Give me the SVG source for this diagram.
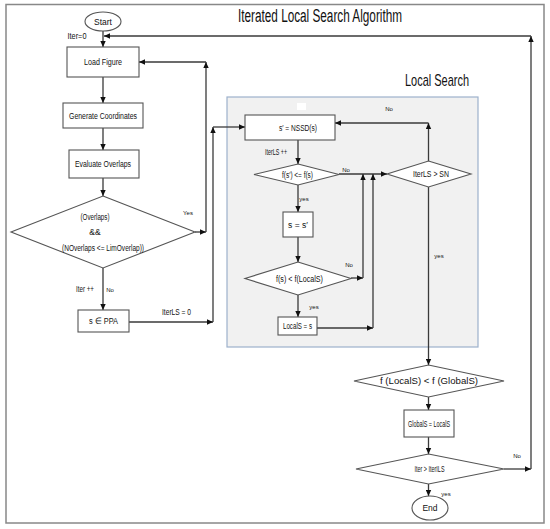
<svg xmlns="http://www.w3.org/2000/svg" width="550" height="529" viewBox="0 0 550 529">
<defs>
<marker id="ah" viewBox="0 0 10 10" refX="10" refY="5" markerWidth="6" markerHeight="6" orient="auto" markerUnits="userSpaceOnUse"><path d="M0,0.5 L10,5 L0,9.5 z" fill="#111"/></marker>
<style>
text{font-family:"Liberation Sans",Arial,sans-serif;fill:#111;text-anchor:middle}
.t{font-size:8.5px}
.s{font-size:6px}
.h{font-size:18px;text-anchor:start}
.n{fill:#fff;stroke:#555;stroke-width:1.1}
.c{fill:none;stroke:#3a3a3a;stroke-width:1.3}
.a{marker-end:url(#ah)}
</style>
</defs>
<rect x="0" y="0" width="550" height="529" fill="#fff"/>
<rect x="6" y="4.5" width="538" height="518.5" fill="none" stroke="#888" stroke-width="1.5"/>
<text class="h" x="238" y="22" textLength="164" lengthAdjust="spacingAndGlyphs">Iterated Local Search Algorithm</text>
<g id="localsearch-panel">
<rect x="227" y="97" width="251" height="250" fill="#f1f1f1" stroke="#9db1cc" stroke-width="1.2"/>
<rect x="297" y="103" width="9" height="7" fill="#fff"/>
<text class="h" x="405" y="86" style="font-size:17px" textLength="64" lengthAdjust="spacingAndGlyphs">Local Search</text>
</g>
<g id="connectors">
<path class="c a" d="M103,31 V47"/>
<path class="c a" d="M103,77 V103"/>
<path class="c a" d="M103,128 V150"/>
<path class="c a" d="M103,178 V196"/>
<path class="c a" d="M195,232 H206"/>
<path class="c a" d="M206,232 V62"/>
<path class="c a" d="M206,62 H139"/>
<path class="c a" d="M103,268 V310"/>
<path class="c a" d="M129,322 H213"/>
<path class="c a" d="M213,322 V127"/>
<path class="c a" d="M213,127 H245"/>
<path class="c a" d="M298,140 V164"/>
<path class="c a" d="M339,174 H387"/>
<path class="c a" d="M298,185 V212"/>
<path class="c a" d="M298,237 V262"/>
<path class="c a" d="M351,278 H363"/>
<path class="c a" d="M363,278 V174"/>
<path class="c a" d="M298,295 V317"/>
<path class="c a" d="M317,328 H373"/>
<path class="c a" d="M373,328 V174"/>
<path class="c a" d="M428.5,161 V123"/>
<path class="c a" d="M428.5,123 H335"/>
<path class="c a" d="M428.5,187 V365"/>
<path class="c a" d="M428.5,397 V410"/>
<path class="c a" d="M428.5,437 V454"/>
<path class="c a" d="M504,469 H531"/>
<path class="c a" d="M531,469 V36"/>
<path class="c a" d="M531,36 H104"/>
<path class="c a" d="M428.5,484 V496"/>
</g>
<g id="labels">
<text class="t" x="77" y="39" textLength="19" lengthAdjust="spacingAndGlyphs">Iter=0</text>
<text class="s" x="188" y="215">Yes</text>
<text class="t" x="85" y="292" textLength="18" lengthAdjust="spacingAndGlyphs">Iter ++</text>
<text class="s" x="110" y="292">No</text>
<text class="t" x="176.5" y="315" textLength="29" lengthAdjust="spacingAndGlyphs">IterLS = 0</text>
<text class="t" x="276" y="155" textLength="22" lengthAdjust="spacingAndGlyphs">IterLS ++</text>
<text class="s" x="346" y="172">No</text>
<text class="s" x="389" y="111">No</text>
<text class="s" x="304" y="201">yes</text>
<text class="s" x="349" y="267">No</text>
<text class="s" x="314" y="309">yes</text>
<text class="s" x="439" y="258">yes</text>
<text class="s" x="517" y="458">No</text>
<text class="s" x="446" y="496">yes</text>
</g>
<g id="start"><ellipse class="n" cx="103" cy="21.5" rx="18" ry="9.5"/><text class="t" x="103" y="24.5">Start</text></g>
<g id="load"><rect class="n" x="67" y="47" width="72" height="30"/><text class="t" x="103" y="65" textLength="38" lengthAdjust="spacingAndGlyphs">Load Figure</text></g>
<g id="generate"><rect class="n" x="63" y="103" width="80" height="25"/><text class="t" x="103" y="118.5" textLength="68" lengthAdjust="spacingAndGlyphs">Generate Coordinates</text></g>
<g id="evaluate"><rect class="n" x="69" y="150" width="70" height="28"/><text class="t" x="103" y="167" textLength="56" lengthAdjust="spacingAndGlyphs">Evaluate Overlaps</text></g>
<g id="overlap-check"><polygon class="n" points="103,196 195,232 103,268 11,232"/>
<text class="t" x="95" y="220" textLength="29" lengthAdjust="spacingAndGlyphs">(Overlaps)</text>
<text class="t" x="95" y="235">&amp;&amp;</text>
<text class="t" x="103" y="251" textLength="82" lengthAdjust="spacingAndGlyphs">(NOverlaps &lt;= LimOverlap))</text></g>
<g id="ppa"><rect class="n" x="78" y="310" width="51" height="22"/><text class="t" x="103.5" y="324" textLength="29" lengthAdjust="spacingAndGlyphs">s  ∈  PPA</text></g>
<g id="nssd"><rect class="n" x="245" y="115" width="90" height="25"/><text class="t" x="298" y="131" textLength="38" lengthAdjust="spacingAndGlyphs">s′ = NSSD(s)</text></g>
<g id="cmp1"><polygon class="n" points="298,164 339,174.5 298,185 254,174.5"/><text class="t" x="297.5" y="177.5" textLength="31" lengthAdjust="spacingAndGlyphs">f(s′) &lt;= f(s)</text></g>
<g id="assign"><rect class="n" x="283" y="212" width="30" height="25"/><text class="t" x="298" y="227.5">s = s′</text></g>
<g id="cmp2"><polygon class="n" points="298,262 351,278.5 298,295 245,278.5"/><text class="t" x="299.5" y="281.5" textLength="47" lengthAdjust="spacingAndGlyphs">f(s) &lt; f(LocalS)</text></g>
<g id="locals"><rect class="n" x="278" y="317" width="39" height="18"/><text class="t" x="297.5" y="329" textLength="29" lengthAdjust="spacingAndGlyphs">LocalS = s</text></g>
<g id="iterls"><polygon class="n" points="428.5,161 471,174 428.5,187 387,174"/><text class="t" x="431" y="177" textLength="36" lengthAdjust="spacingAndGlyphs">IterLS &gt; SN</text></g>
<g id="cmp3"><polygon class="n" points="428.5,365 504,381 428.5,397 354,381"/><text class="t" x="429" y="384" textLength="98" lengthAdjust="spacingAndGlyphs">f (LocalS) &lt; f (GlobalS)</text></g>
<g id="globals"><rect class="n" x="404" y="410" width="50" height="27"/><text class="t" x="429" y="426.5" textLength="42" lengthAdjust="spacingAndGlyphs">GlobalS = LocalS</text></g>
<g id="iter-check"><polygon class="n" points="428.5,454 504,469 428.5,484 356,469"/><text class="t" x="429.5" y="472" textLength="30" lengthAdjust="spacingAndGlyphs">Iter &gt; IterILS</text></g>
<g id="end"><ellipse class="n" cx="430" cy="508" rx="18" ry="12"/><text class="t" x="430" y="511">End</text></g>
</svg>
